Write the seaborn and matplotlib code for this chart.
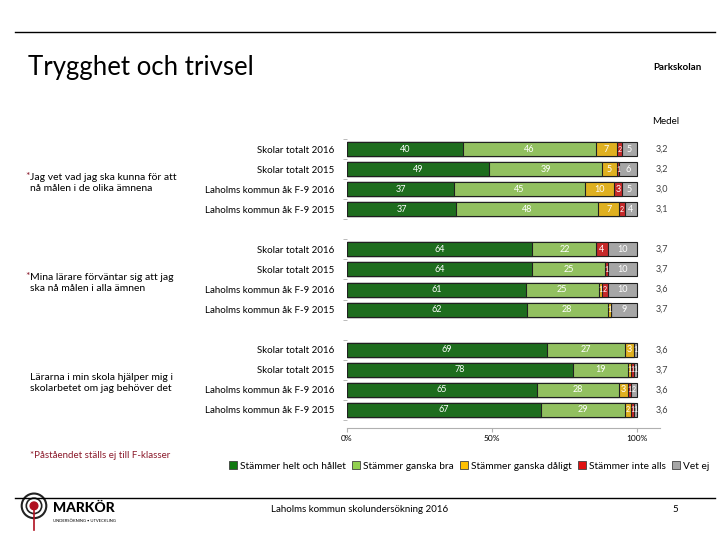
import matplotlib
matplotlib.use("Agg")
import matplotlib.pyplot as plt
import matplotlib.patches as mpatches
import seaborn as sns
import pandas as pd
import numpy as np

# ---- data ----
row_labels = ["Skolar totalt 2016", "Skolar totalt 2015",
              "Laholms kommun åk F-9 2016", "Laholms kommun åk F-9 2015"]
questions = [
    ("*", "Jag vet vad jag ska kunna för att\nnå målen i de olika ämnena"),
    ("*", "Mina lärare förväntar sig att jag\nska nå målen i alla ämnen"),
    ("", "Lärarna i min skola hjälper mig i\nskolarbetet om jag behöver det"),
]
answers = ["Stämmer helt och hållet", "Stämmer ganska bra", "Stämmer ganska dåligt",
           "Stämmer inte alls", "Vet ej"]
colors = ["#117A11", "#92D050", "#FFC000", "#E01010", "#A6A6A6"]

helt = [40, 49, 37, 37, 64, 64, 61, 62, 69, 78, 65, 67]
ganska_bra = [46, 39, 45, 48, 22, 25, 25, 28, 27, 19, 28, 29]
ganska_daligt = [7, 5, 10, 7, 0, 0, 1, 1, 3, 1, 3, 2]
inte_alls = [2, 1, 3, 2, 4, 1, 2, 0, 0, 1, 1, 1]
vet_ej = [5, 6, 5, 4, 10, 10, 10, 9, 1, 1, 2, 1]
medel = ["3,2", "3,2", "3,0", "3,1", "3,7", "3,7", "3,6", "3,7", "3,6", "3,7", "3,6", "3,6"]

series = [helt, ganska_bra, ganska_daligt, inte_alls, vet_ej]

# row positions with a gap between question groups
pos = [g * 5 + r for g in range(3) for r in range(4)]

recs = []
for i, p in enumerate(pos):
    total = sum(s[i] for s in series)
    cum = 0
    for a, s in zip(answers, series):
        share = s[i] / total * 100  # 100 % stacked, like the original
        cum += share
        recs.append({"pos": p, "answer": a, "value": s[i], "share": share,
                     "cum": cum, "start": cum - share})
df = pd.DataFrame(recs)

plt.rcParams["font.family"] = ["Lato", "DejaVu Sans"]

fig = plt.figure(figsize=(7.2, 5.4), dpi=100)
ax = fig.add_axes([347 / 720, 1 - 428 / 540, 313 / 720, 291 / 540])

# stacked bars: draw cumulative totals from the longest down
sns.barplot(data=df, x="cum", y="pos", hue="answer", hue_order=answers[::-1],
            palette=dict(zip(answers, colors)), orient="h", native_scale=True,
            dodge=False, width=0.7, edgecolor="#202020", linewidth=0.8,
            legend=False, errorbar=None, ax=ax)

for _, r in df.iterrows():
    if r["value"] > 0:
        fs = 6.5 if r["value"] >= 3 else 5
        ax.text(r["start"] + r["share"] / 2, r["pos"], f"{int(r['value'])}",
                ha="center", va="center", color="white", fontsize=fs)

for p, m in zip(pos, medel):
    ax.text(108.5, p, m, ha="center", va="center", fontsize=6.5, color="#404040",
            clip_on=False)
ax.text(110, -1.35, "Medel", ha="center", va="center", fontsize=7, clip_on=False)

ax.set_xlim(0, 108)
ax.set_ylim(13.9, -0.6)
ax.set_xticks([0, 50, 100])
ax.set_xticklabels(["0%", "50%", "100%"], fontsize=6)
ax.set_yticks(pos)
ax.set_yticklabels(row_labels * 3, fontsize=7)
ax.set_yticks(np.arange(-0.5, 14, 1), minor=True)
ax.tick_params(axis="y", which="major", length=0, pad=9)
ax.tick_params(axis="y", which="minor", length=3, color="#b0b0b0")
ax.tick_params(axis="x", length=3, color="#b0b0b0", pad=2)
ax.set_xlabel("")
ax.set_ylabel("")
for s in ["top", "right", "left"]:
    ax.spines[s].set_visible(False)
ax.spines["bottom"].set_color("#b0b0b0")
ax.set_facecolor("white")

# questions on the left
for g, (star, q) in enumerate(questions):
    y = 1 - (183 + g * 100) / 540
    fig.text(30 / 720, y, q, fontsize=7.5, va="center", ha="left", linespacing=1.3)
    if star:
        fig.text(25 / 720, y + 0.012, star, fontsize=7.5, color="#8B1A2B", va="center", ha="left")

# header / footer
fig.add_artist(plt.Line2D([15 / 720, 715 / 720], [1 - 32 / 540] * 2, color="black", lw=1))
fig.add_artist(plt.Line2D([15 / 720, 715 / 720], [1 - 498 / 540] * 2, color="black", lw=1))
fig.text(28 / 720, 1 - 68 / 540, "Trygghet och trivsel", fontsize=18.5, va="center")
fig.text(702 / 720, 1 - 67 / 540, "Parkskolan", fontsize=7, fontweight="bold", ha="right", va="center")
fig.text(30 / 720, 1 - 455 / 540, "*Påståendet ställs ej till F-klasser", fontsize=7,
         color="#8B1A2B", va="center")
fig.text(360 / 720, 1 - 510 / 540, "Laholms kommun skolundersökning 2016", fontsize=7,
         ha="center", va="center")
fig.text(675 / 720, 1 - 510 / 540, "5", fontsize=7, ha="center", va="center")

handles = [mpatches.Patch(facecolor=c, edgecolor="#404040", lw=0.6, label=a)
           for a, c in zip(answers, colors)]
fig.legend(handles=handles, loc="center", bbox_to_anchor=(469 / 720, 1 - 466 / 540),
           ncol=5, frameon=False, fontsize=7.3, handlelength=0.8, handleheight=0.8,
           handletextpad=0.3, columnspacing=0.6)

# logo
lax = fig.add_axes([14 / 720, 1 - 532 / 540, 40 / 720, 40 / 540])
lax.set_aspect("equal")
lax.set_xlim(-1, 1)
lax.set_ylim(-1.6, 1)
lax.add_patch(mpatches.Circle((0, 0.1), 0.8, fill=False, lw=1.5, color="#222222"))
lax.add_patch(mpatches.Circle((0, 0.1), 0.5, fill=False, lw=1.2, color="#222222"))
lax.add_patch(mpatches.Circle((0, 0.1), 0.25, color="#B01020"))
lax.plot([0, 0], [-0.2, -1.5], color="#B01020", lw=1.2)
lax.axis("off")
fig.text(53 / 720, 1 - 508 / 540, "MARKÖR", fontsize=10, fontweight="black", va="center")
fig.text(53 / 720, 1 - 521 / 540, "UNDERSÖKNING • UTVECKLING", fontsize=3, va="center")

fig.savefig("out.png", dpi=100)
